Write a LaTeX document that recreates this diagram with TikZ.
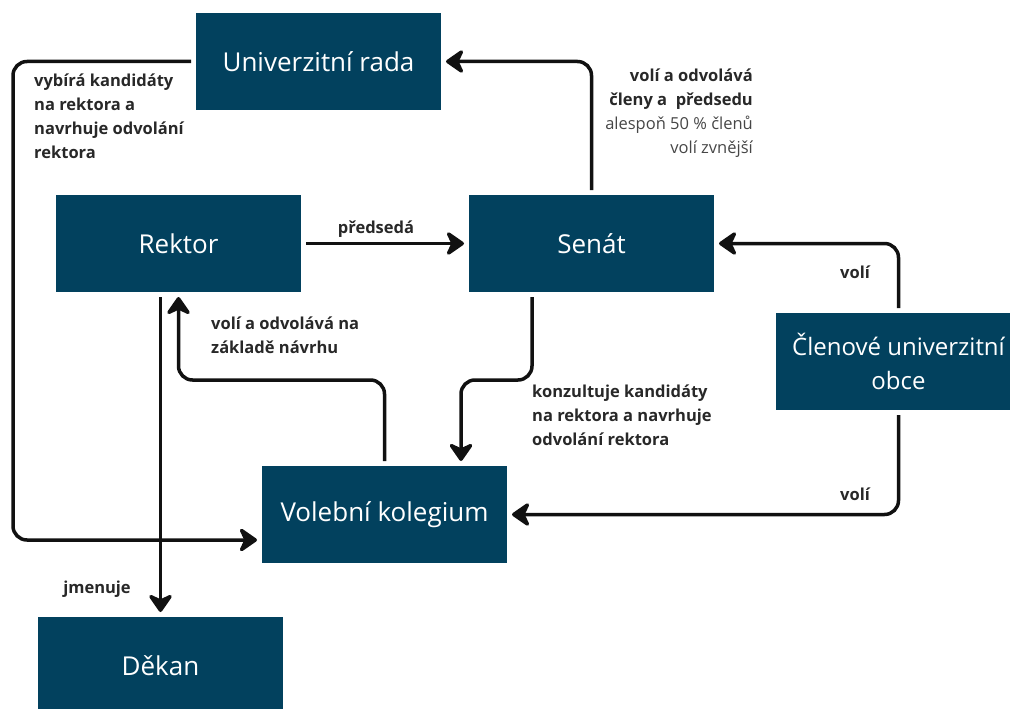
\documentclass[tikz,border=0pt]{standalone}
\usepackage{fontspec}
\setmainfont{Open Sans}
\usepackage{xcolor}
\usetikzlibrary{
    positioning,
    arrows.meta,
    calc
}
\definecolor{boxBlue}{RGB}{2, 65, 94}
\definecolor{lineBlack}{RGB}{17, 17, 17}
\definecolor{labelDark}{RGB}{40, 40, 40}
\definecolor{labelGray}{RGB}{70, 70, 70}

\begin{document}
\begin{tikzpicture}[x=1pt, y=-1pt,
    organ/.style={fill=boxBlue, text=white, minimum width=245pt, minimum height=97pt,
        outer sep=5pt, align=center, font=\fontsize{26}{33}\selectfont},
    link/.style={draw=lineBlack, line width=3.5pt, rounded corners=14pt,
        -{Stealth[length=21pt, width=29pt, inset=7pt, round]}},
    note/.style={inner sep=0pt, text=labelDark, font=\fontsize{16.5}{24}\selectfont\bfseries}
]
                \clip (0,0) rectangle (1010,709);
                
                % orgány
                \node[organ] (rada) at (318.5, 61.5) {Univerzitní rada};
                \node[organ] (rektor) at (178.5, 243.5) {Rektor};
                \node[organ] (senat) at (591.5, 243.5) {Senát};
                \node[organ, font=\fontsize{24}{34}\selectfont] (obec) at (898.5, 361.5) {Členové univerzitní\\obce};
                \node[organ] (kolegium) at (384.5, 514.5) {Volební kolegium};
                \node[organ] (dekan) at (160.5, 665.5) {Děkan};
                
                % vazby
                \coordinate (vlevo) at (13, 540);
                \draw[link] (senat.north) |- (rada.east);
                \draw[link] (rada.west) -| (vlevo) -- (kolegium.west |- vlevo);
                \draw[link] (rektor.east) -- (senat.west);
                \draw[link] (rektor.south -| dekan.north) -- (dekan.north);
                \draw[link] (kolegium.north) -- ++(0,-81) -| (rektor.south);
                \draw[link] ([xshift=-59.5pt]senat.south) -- ++(0,83) -| ([xshift=76.5pt]kolegium.north);
                \draw[link] (obec.north) |- (senat.east);
                \draw[link] (obec.south) |- (kolegium.east);
                
                % popisky
                \node[note, anchor=north west, align=left] (vyber) at (34, 74)
                    {vybírá kandidáty\\na rektora a\\navrhuje odvolání\\rektora};
                \node[note, anchor=north east, align=right] (volba) at (753, 69)
                    {volí a odvolává\\členy a\ \ předsedu\\
                     \mdseries\color{labelGray}alespoň 50 \% členů\\
                     \mdseries\color{labelGray}volí zvnější};
                \node[note, anchor=base] (predseda) at (376, 233) {předsedá};
                \node[note, anchor=north west, align=left] (navrh) at (211, 317)
                    {volí a odvolává na\\základě návrhu};
                \node[note, anchor=north west, align=left] (konzult) at (532, 385)
                    {konzultuje kandidáty\\na rektora a navrhuje\\odvolání rektora};
                \node[note, anchor=base] (voli1) at (855, 278) {volí};
                \node[note, anchor=base] (voli2) at (855, 500) {volí};
                \node[note, anchor=base] (jmen) at (97, 593) {jmenuje};
            \end{tikzpicture}
\end{document}
